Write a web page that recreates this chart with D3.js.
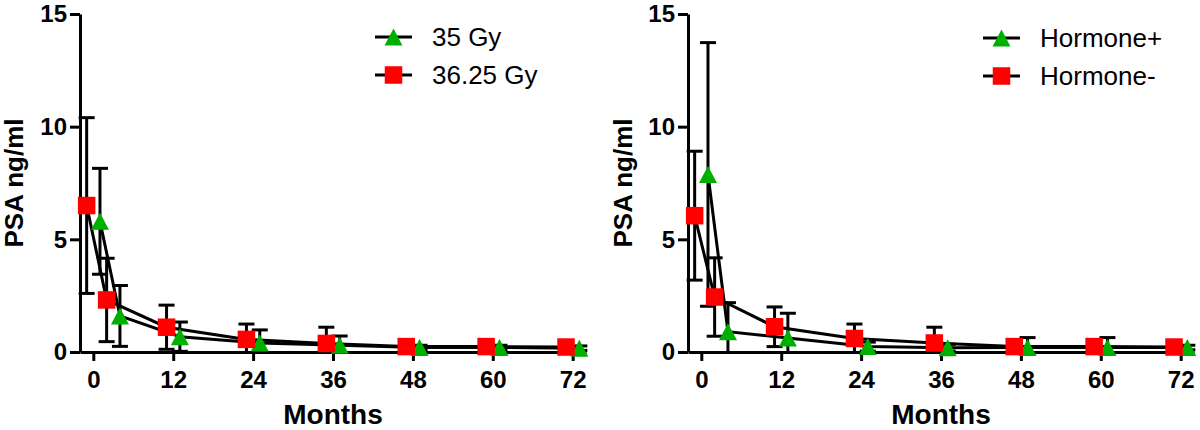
<!DOCTYPE html>
<html>
<head>
<meta charset="utf-8">
<script src="https://cdn.jsdelivr.net/npm/d3@7"></script>
<style>
  body { margin: 0; background: #fff; }
  svg { font-family: "Liberation Sans", Arial, sans-serif; }
</style>
</head>
<body>
<svg id="chart" width="1200" height="430"></svg>
<script>
// time points (months)
const months = [0, 3, 12, 24, 36, 48, 60, 72];
const xTicks = [0, 12, 24, 36, 48, 60, 72];
const yTicks = [0, 5, 10, 15];

// left panel: dose groups
const gy35Mean   = [5.8, 1.6, 0.68, 0.4, 0.3, 0.2, 0.2, 0.17];
const gy35Sd     = [2.35, 1.35, 0.65, 0.58, 0.41, 0.1, 0.1, 0.1];
const gy3625Mean = [6.5, 2.31, 1.1, 0.56, 0.38, 0.24, 0.24, 0.22];
const gy3625Sd   = [3.9, 1.85, 0.98, 0.68, 0.72, 0.12, 0.12, 0.1];

// right panel: hormone groups
const hormPlusMean  = [7.88, 0.9, 0.62, 0.24, 0.19, 0.2, 0.2, 0.2];
const hormPlusSd    = [5.85, 1.29, 1.1, 0.2, 0.15, 0.44, 0.44, 0.1];
const hormMinusMean = [6.05, 2.44, 1.12, 0.6, 0.4, 0.24, 0.24, 0.22];
const hormMinusSd   = [2.86, 1.74, 0.88, 0.64, 0.7, 0.1, 0.1, 0.1];

const svg = d3.select("#chart");
const green = "#00b000", red = "#ff0000";

const panels = [
  { left: 80, right: 586, titleX: 23,
    series: [
      { name: "35 Gy", mean: gy35Mean, sd: gy35Sd, color: green, shape: "tri", nudge: 1 },
      { name: "36.25 Gy", mean: gy3625Mean, sd: gy3625Sd, color: red, shape: "sq", nudge: -1 }
    ],
    legend: { x: 375, y: 37 } },
  { left: 688, right: 1194, titleX: 632,
    series: [
      { name: "Hormone+", mean: hormPlusMean, sd: hormPlusSd, color: green, shape: "tri", nudge: 1 },
      { name: "Hormone-", mean: hormMinusMean, sd: hormMinusSd, color: red, shape: "sq", nudge: -1 }
    ],
    legend: { x: 983, y: 38 } }
];

const y = d3.scaleLinear().domain([0, 15]).range([352, 14]);

function marker(sel, shape, color) {
  if (shape === "sq") {
    sel.append("rect").attr("x", -8.75).attr("y", -8.75)
      .attr("width", 17.5).attr("height", 17.5).attr("fill", color);
  } else {
    sel.append("path").attr("d", "M0,-8.5L9,8.5L-9,8.5Z").attr("fill", color);
  }
}

panels.forEach(p => {
  const x = d3.scaleLinear().domain([-2, 74]).range([p.left, p.right]);
  const g = svg.append("g");

  // axes
  g.append("g")
    .attr("transform", `translate(0,${y(0)})`)
    .call(d3.axisBottom(x).tickValues(xTicks).tickSize(9).tickSizeOuter(0).tickPadding(10))
    .call(a => a.selectAll("path, line").attr("stroke", "#000").attr("stroke-width", 3))
    .call(a => a.selectAll("text").attr("font-size", 24).attr("font-weight", "bold").attr("fill", "#000"));

  g.append("g")
    .attr("transform", `translate(${p.left},0)`)
    .call(d3.axisLeft(y).tickValues(yTicks).tickSize(10).tickSizeOuter(0).tickPadding(3))
    .call(a => a.selectAll("path, line").attr("stroke", "#000").attr("stroke-width", 3))
    .call(a => a.selectAll("text").attr("font-size", 24).attr("font-weight", "bold").attr("fill", "#000"));

  g.append("text")
    .attr("x", (p.left + p.right) / 2).attr("y", 424)
    .attr("text-anchor", "middle").attr("font-size", 28).attr("font-weight", "bold")
    .text("Months");

  g.append("text")
    .attr("transform", `translate(${p.titleX},${(y(0) + y(15)) / 2}) rotate(-90)`)
    .attr("text-anchor", "middle").attr("font-size", 26).attr("font-weight", "bold")
    .text("PSA ng/ml");

  // error bars
  p.series.forEach(s => {
    const pts = months.map((m, i) => ({ m: m + s.nudge, v: s.mean[i], sd: s.sd[i] }));
    const eb = g.append("g").attr("stroke", "#000").attr("stroke-width", 3);
    pts.forEach(d => {
      const lo = Math.max(0, d.v - d.sd), hi = d.v + d.sd;
      const cx = x(d.m);
      eb.append("line").attr("x1", cx).attr("x2", cx).attr("y1", y(lo)).attr("y2", y(hi));
      eb.append("line").attr("x1", cx - 8).attr("x2", cx + 8).attr("y1", y(hi)).attr("y2", y(hi));
      if (d.v - d.sd > 0.02)
        eb.append("line").attr("x1", cx - 8).attr("x2", cx + 8).attr("y1", y(lo)).attr("y2", y(lo));
    });
    s.pts = pts;
  });

  // connecting lines
  const line = d3.line().x(d => x(d.m)).y(d => y(d.v));
  p.series.forEach(s => {
    g.append("path").datum(s.pts).attr("d", line)
      .attr("fill", "none").attr("stroke", "#000").attr("stroke-width", 3);
  });

  // markers
  p.series.forEach(s => {
    g.selectAll(null).data(s.pts).join("g")
      .attr("transform", d => `translate(${x(d.m)},${y(d.v)})`)
      .each(function () { marker(d3.select(this), s.shape, s.color); });
  });

  // legend
  p.series.forEach((s, i) => {
    const ly = p.legend.y + i * 38;
    const lg = g.append("g").attr("transform", `translate(${p.legend.x},${ly})`);
    lg.append("line").attr("x1", 0).attr("x2", 37).attr("stroke", "#000").attr("stroke-width", 3);
    const m = lg.append("g").attr("transform", "translate(18.5,0)");
    marker(m, s.shape, s.color);
    lg.append("text").attr("x", 57).attr("y", 0).attr("dy", "0.35em")
      .attr("font-size", 26).text(s.name);
  });
});
</script>
</body>
</html>
